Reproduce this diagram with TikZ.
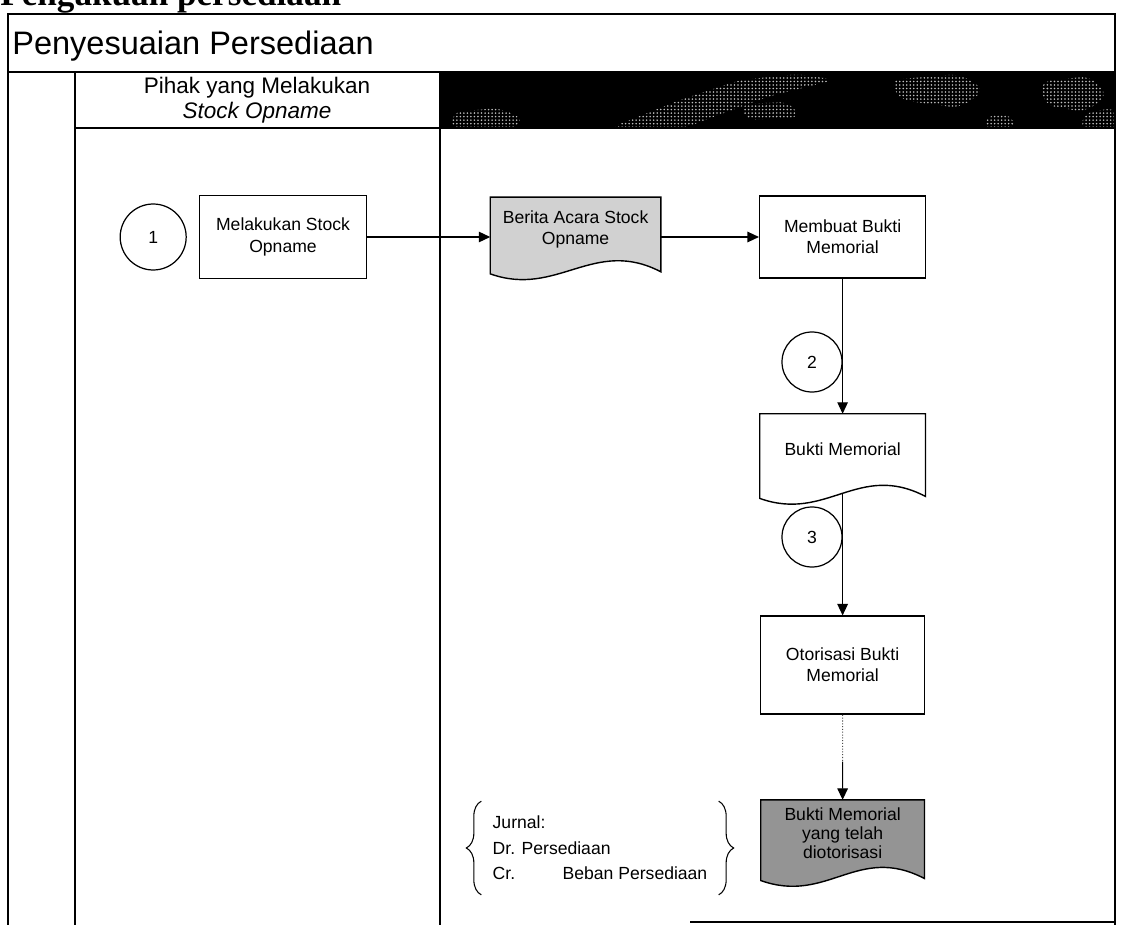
\documentclass[tikz,border=0pt]{standalone}
\usepackage{fontspec}
\setmainfont{Liberation Sans}
\newfontfamily\headserif{Liberation Serif}
\usetikzlibrary{arrows.meta,positioning,calc,backgrounds,decorations.pathreplacing,patterns.meta}
\usepackage{xcolor}
\definecolor{lightdoc}{gray}{0.82}
\definecolor{darkdoc}{gray}{0.58}
\definecolor{noise}{gray}{0.75}
\tikzset{
  >={Triangle[length=6.5pt,width=6pt]},
  every node/.style={font=\fontsize{10}{12}\selectfont,text=black},
  frameline/.style={line width=1pt},
  procbox/.style={draw,line width=0.8pt,minimum width=33.4mm,minimum height=16.6mm,align=center,inner sep=3pt},
  docbox/.style={minimum width=33mm,minimum height=14mm,align=center,inner sep=2pt},
  numcircle/.style={draw,circle,line width=0.7pt,minimum size=12mm,inner sep=0pt},
  arrow/.style={->,line width=0.6pt},
  dotline/.style={line width=0.6pt,densely dotted,draw=black!70},
  lanetitle/.style={font=\fontsize{12.8}{14}\selectfont,align=center},
  journal/.style={align=left,inner xsep=2.2mm,inner ysep=0pt,font=\fontsize{10}{14.5}\selectfont},
  bracket/.style={decorate,decoration={brace,amplitude=3mm},line width=0.6pt},
  grain/.style={pattern={Dots[distance=2pt,radius=0.5pt]},pattern color=noise,rounded corners=2mm},
}
% flowchart document: flat top, wavy bottom under the node
\newcommand{\docoutline}[2]{%
  \filldraw[line width=0.8pt,fill=#2] (#1.north west) -- (#1.north east) -- ([yshift=-2.2mm]#1.south east)
    .. controls +(-13.4mm,7mm) and +(13.4mm,-4.8mm) .. ([yshift=-2.6mm]#1.south west) -- cycle;}

\begin{document}
\begin{tikzpicture}[x=0.2mm,y=-0.2mm,node distance=6mm and 9mm]
\useasboundingbox (0,0) rectangle (1121,925);

% heading above the chart (cut by the page)
\node[anchor=base west,inner sep=0pt,font=\headserif\bfseries\fontsize{20}{20}\selectfont] (pagehead) at (0,6) {Pengakuan persediaan};

% swimlane frame
\fill (440,72) rectangle (1115,128);
\begin{scope}
  \clip (440,72) rectangle (1115,128);
  \fill[grain] (610,128) -- (680,100) -- (740,80) -- (800,74) -- (835,80) -- (770,96) -- (705,120) -- (685,128) -- cycle;
  \fill[grain] (890,80) -- (960,74) -- (985,90) -- (960,108) -- (900,100) -- cycle;
  \fill[grain] (1040,82) -- (1090,76) -- (1108,95) -- (1085,112) -- (1045,105) -- cycle;
  \fill[grain] (452,112) -- (500,108) -- (525,120) -- (510,130) -- (452,130) -- cycle;
  \fill[grain] (985,116) -- (1012,114) -- (1015,130) -- (985,130) -- cycle;
  \fill[grain] (1085,112) -- (1117,108) -- (1117,130) -- (1080,130) -- cycle;
  \fill[grain] (740,104) -- (790,102) -- (800,118) -- (745,120) -- cycle;
\end{scope}
\draw[frameline] (8,925) -- (8,14) -- (1115,14) -- (1115,925);
\draw[frameline] (8,72) -- (1115,72);
\draw[frameline] (75,72) -- (75,925);
\draw[frameline] (440,72) -- (440,925);
\draw[frameline] (75,128) -- (1115,128);
\draw[frameline] (690,922) -- (1115,922);

\node[anchor=base west,inner sep=0pt,font=\fontsize{18.5}{20}\selectfont] (swimtitle) at (12,55) {Penyesuaian Persediaan};
\node[lanetitle] (lanehead) at (257,100) {Pihak yang Melakukan\\\textit{Stock Opname}};

% stock opname row
\node[procbox] (opname) at (283,237) {Melakukan Stock\\Opname};
\node[numcircle,minimum size=13.2mm,left=2.4mm of opname] (n1) {1};
\node[docbox,minimum width=34mm,minimum height=12.6mm,right=24.6mm of opname,yshift=1.6mm] (berita) {Berita Acara Stock\\Opname};
\node[procbox,minimum width=33.2mm,minimum height=16.4mm,right=19.6mm of berita,yshift=-1.6mm] (membuat) {Membuat Bukti\\Memorial};
\draw[arrow] (opname.east) -- (opname.east -| berita.west);
\draw[arrow] (berita.east |- membuat.west) -- (membuat.west);

% memorial flow
\node[docbox,minimum height=14.2mm,below=27mm of membuat] (bukti) {Bukti Memorial};
\node[procbox,minimum width=32.8mm,minimum height=19.6mm,below=26mm of bukti] (otorisasi) {Otorisasi Bukti\\Memorial};
\node[docbox,minimum width=32.6mm,minimum height=13.4mm,below=17mm of otorisasi,font=\fontsize{10}{10.8}\selectfont] (sah) {Bukti Memorial\\yang telah\\diotorisasi};
\node[numcircle] (n2) at (812,362) {2};
\node[numcircle] (n3) at (812,537) {3};
\draw[arrow] (membuat) -- (bukti);
\draw[arrow] ([yshift=-1.6mm]bukti.south) -- (otorisasi);
\coordinate (otomid) at ($(otorisasi.south)!0.55!(sah.north)$);
\draw[dotline] (otorisasi.south) -- (otomid);
\draw[arrow] (otomid) -- (sah.north);

\begin{scope}[on background layer]
  \docoutline{berita}{lightdoc}
  \docoutline{bukti}{white}
  \docoutline{sah}{darkdoc}
\end{scope}

% journal entry
\node[journal,minimum height=18.6mm] (jurnal) at (600,848)
{Jurnal:\\Dr. Persediaan\\\makebox[14mm][l]{Cr.}Beban Persediaan};
\draw[bracket] (jurnal.south west) -- (jurnal.north west);
\draw[bracket] (jurnal.north east) -- (jurnal.south east);

\end{tikzpicture}
\end{document}
